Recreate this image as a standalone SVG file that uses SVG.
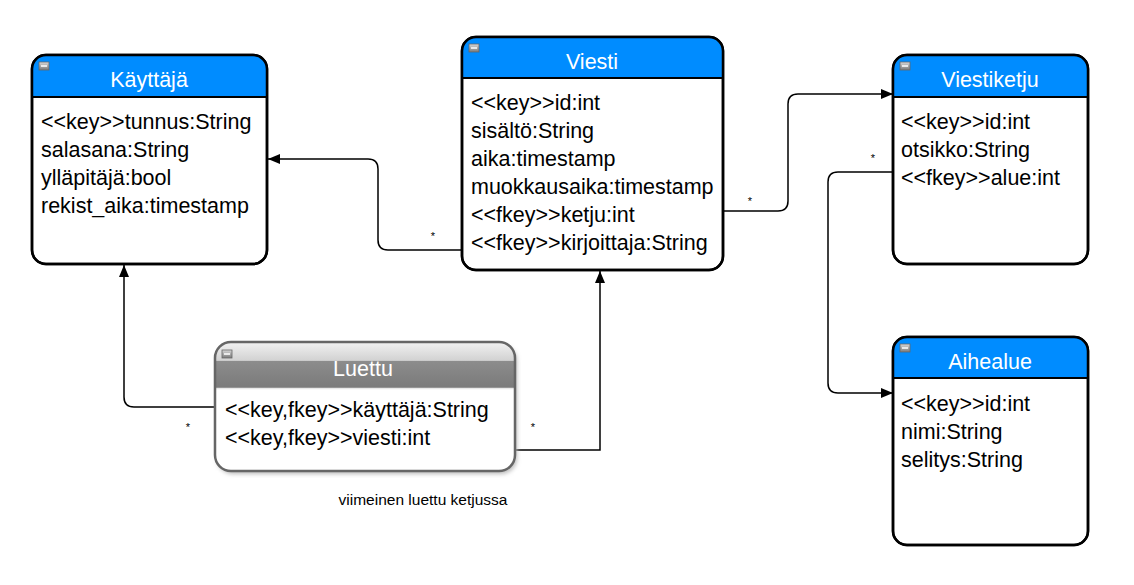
<svg xmlns="http://www.w3.org/2000/svg" width="1134" height="585" viewBox="0 0 1134 585">
<style>
.box{fill:#fff;stroke:#000;stroke-width:2.5}
.outline{fill:none;stroke:#000;stroke-width:2.5}
.hdr{fill:#008cff}
.sep{stroke:#000;stroke-width:2}
.title{font-family:"Liberation Sans",Arial,sans-serif;font-size:21.5px;fill:#fff;text-anchor:middle}
.attr{font-family:"Liberation Sans",Arial,sans-serif;font-size:21.5px;fill:#000}
.star{font-family:"Liberation Sans",Arial,sans-serif;font-size:11px;fill:#000;text-anchor:middle}
.note{font-family:"Liberation Sans",Arial,sans-serif;font-size:15.5px;fill:#000;text-anchor:middle}
.conn{fill:none;stroke:#000;stroke-width:1.5}
.icon{fill:url(#ig);stroke:#666;stroke-width:0.8}
.minus{stroke:#fff;stroke-width:1.5}
</style>
<defs>
<linearGradient id="ig" x1="0" y1="0" x2="0" y2="1"><stop offset="0" stop-color="#d8d8d8"/><stop offset="1" stop-color="#7a7a7a"/></linearGradient>
<linearGradient id="gl" x1="0" y1="0" x2="0" y2="1">
<stop offset="0" stop-color="#f2f2f2"/><stop offset="0.4" stop-color="#d2d2d2"/><stop offset="0.42" stop-color="#8c8c8c"/><stop offset="1" stop-color="#7a7a7a"/>
</linearGradient>
<filter id="sh" x="-10%" y="-10%" width="120%" height="130%"><feGaussianBlur stdDeviation="2"/></filter>
<marker id="arr" viewBox="0 0 12 10" refX="12" refY="5" markerWidth="12" markerHeight="10" markerUnits="userSpaceOnUse" orient="auto"><path d="M0,0 L12,5 L0,10 Z" fill="#000"/></marker>
</defs>

<g id="connectors">
<path class="conn" marker-end="url(#arr)" d="M462,250 H388 Q378,250 378,240 V169 Q378,159 368,159 H268"/>
<path class="conn" marker-end="url(#arr)" d="M723,211 H778 Q788,211 788,201 V104 Q788,94 798,94 H893"/>
<path class="conn" marker-end="url(#arr)" d="M893,172 H838 Q828,172 828,182 V383 Q828,393 838,393 H893"/>
<path class="conn" marker-end="url(#arr)" d="M215,407 H134 Q124,407 124,397 V265"/>
<path class="conn" marker-end="url(#arr)" d="M515,450 H600 V271"/>
<text class="star" x="433" y="240">*</text>
<text class="star" x="750" y="205">*</text>
<text class="star" x="873" y="162">*</text>
<text class="star" x="188" y="431">*</text>
<text class="star" x="533" y="431">*</text>
</g>

<g id="kayttaja">
<rect class="box" x="32" y="55" width="235" height="209" rx="14"/>
<path class="hdr" d="M32,97 V69 A14,14 0 0 1 46,55 H253 A14,14 0 0 1 267,69 V97 Z"/>
<line class="sep" x1="32" y1="97" x2="267" y2="97"/>
<rect class="outline" x="32" y="55" width="235" height="209" rx="14"/>
<rect class="icon" x="39" y="62" width="10" height="8"/><line class="minus" x1="41" y1="66" x2="47" y2="66"/>
<text class="title" x="149" y="87">Käyttäjä</text>
<text class="attr" x="41" y="129">&lt;&lt;key&gt;&gt;tunnus:String</text>
<text class="attr" x="41" y="157">salasana:String</text>
<text class="attr" x="41" y="185">ylläpitäjä:bool</text>
<text class="attr" x="41" y="213">rekist_aika:timestamp</text>
</g>

<g id="viesti">
<rect class="box" x="462" y="37" width="261" height="233" rx="14"/>
<path class="hdr" d="M462,78 V51 A14,14 0 0 1 476,37 H709 A14,14 0 0 1 723,51 V78 Z"/>
<line class="sep" x1="462" y1="78" x2="723" y2="78"/>
<rect class="outline" x="462" y="37" width="261" height="233" rx="14"/>
<rect class="icon" x="469" y="44" width="10" height="8"/><line class="minus" x1="471" y1="48" x2="477" y2="48"/>
<text class="title" x="592" y="69">Viesti</text>
<text class="attr" x="471" y="110">&lt;&lt;key&gt;&gt;id:int</text>
<text class="attr" x="471" y="138">sisältö:String</text>
<text class="attr" x="471" y="166">aika:timestamp</text>
<text class="attr" x="471" y="194">muokkausaika:timestamp</text>
<text class="attr" x="471" y="222">&lt;&lt;fkey&gt;&gt;ketju:int</text>
<text class="attr" x="471" y="250">&lt;&lt;fkey&gt;&gt;kirjoittaja:String</text>
</g>

<g id="viestiketju">
<rect class="box" x="893" y="55" width="195" height="209" rx="14"/>
<path class="hdr" d="M893,97 V69 A14,14 0 0 1 907,55 H1074 A14,14 0 0 1 1088,69 V97 Z"/>
<line class="sep" x1="893" y1="97" x2="1088" y2="97"/>
<rect class="outline" x="893" y="55" width="195" height="209" rx="14"/>
<rect class="icon" x="900" y="62" width="10" height="8"/><line class="minus" x1="902" y1="66" x2="908" y2="66"/>
<text class="title" x="990" y="87">Viestiketju</text>
<text class="attr" x="901" y="129">&lt;&lt;key&gt;&gt;id:int</text>
<text class="attr" x="901" y="157">otsikko:String</text>
<text class="attr" x="901" y="185">&lt;&lt;fkey&gt;&gt;alue:int</text>
</g>

<g id="aihealue">
<rect class="box" x="893" y="337" width="195" height="208" rx="14"/>
<path class="hdr" d="M893,378 V351 A14,14 0 0 1 907,337 H1074 A14,14 0 0 1 1088,351 V378 Z"/>
<line class="sep" x1="893" y1="378" x2="1088" y2="378"/>
<rect class="outline" x="893" y="337" width="195" height="208" rx="14"/>
<rect class="icon" x="900" y="344" width="10" height="8"/><line class="minus" x1="902" y1="348" x2="908" y2="348"/>
<text class="title" x="990" y="369">Aihealue</text>
<text class="attr" x="901" y="411">&lt;&lt;key&gt;&gt;id:int</text>
<text class="attr" x="901" y="439">nimi:String</text>
<text class="attr" x="901" y="467">selitys:String</text>
</g>

<g id="luettu">
<rect x="217" y="345" width="300" height="129" rx="16" fill="#bbb" filter="url(#sh)"/>
<rect x="215" y="342" width="300" height="129" rx="16" fill="#fff"/>
<path fill="url(#gl)" d="M215,388 V358 A16,16 0 0 1 231,342 H499 A16,16 0 0 1 515,358 V388 Z"/>
<line x1="216" y1="388.5" x2="514" y2="388.5" stroke="#e8e8e8" stroke-width="1.5"/>
<rect x="215" y="342" width="300" height="129" rx="16" fill="none" stroke="#666" stroke-width="2.5"/>
<rect class="icon" x="222" y="350" width="10" height="8"/><line class="minus" x1="224" y1="354" x2="230" y2="354"/>
<text class="title" x="363" y="376">Luettu</text>
<text class="attr" x="225" y="417">&lt;&lt;key,fkey&gt;&gt;käyttäjä:String</text>
<text class="attr" x="225" y="445">&lt;&lt;key,fkey&gt;&gt;viesti:int</text>
</g>

<g id="note">
<text class="note" x="423" y="505">viimeinen luettu ketjussa</text>
</g>
</svg>
